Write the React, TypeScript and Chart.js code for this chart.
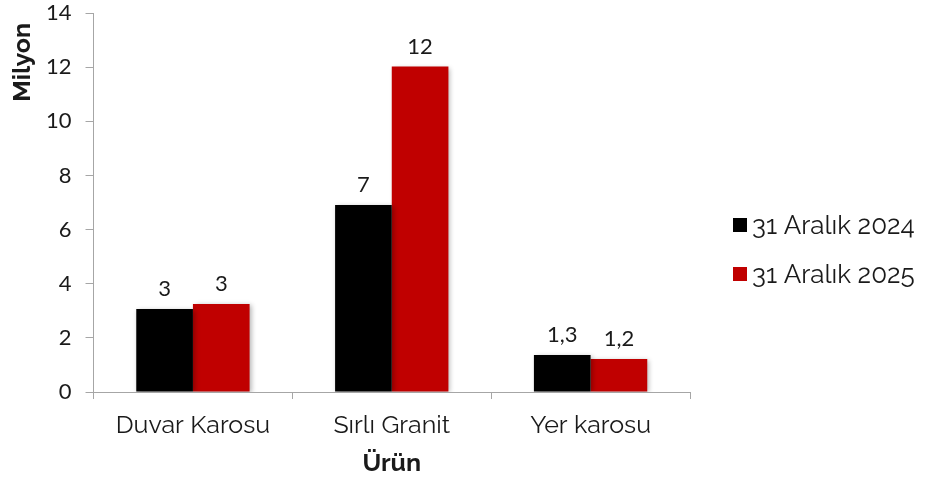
import React, { useEffect, useRef } from "react";
import { Chart, registerables } from "chart.js";

Chart.register(...registerables);

const categories = ["Duvar Karosu", "Sırlı Granit", "Yer karosu"];
const series2024 = [3.07, 6.91, 1.37];
const series2025 = [3.25, 12.02, 1.22];
const labels2024 = ["3", "7", "1,3"];
const labels2025 = ["3", "12", "1,2"];
const seriesNames = ["31 Aralık 2024", "31 Aralık 2025"];
const yAxisTitle = "Milyon";
const xAxisTitle = "Ürün";
const FONT = "Raleway, Lato, 'Open Sans', sans-serif";
const NUMFONT = "Lato, 'Open Sans', sans-serif";
const SHIFT = 12;

const valueLabelPlugin = {
  id: "valueLabels",
  beforeDatasetsDraw(chart: any) {
    const ctx = chart.ctx;
    ctx.save();
    ctx.shadowColor = "rgba(0,0,0,0.3)";
    ctx.shadowBlur = 5;
    ctx.shadowOffsetX = 2;
    ctx.shadowOffsetY = 1;
  },
  afterDatasetsDraw(chart: any) {
    const ctx = chart.ctx;
    ctx.restore();
    ctx.save();
    ctx.font = `22px ${NUMFONT}`;
    ctx.fillStyle = "#1a1a1a";
    ctx.textAlign = "center";
    ctx.textBaseline = "bottom";
    const allLabels = [labels2024, labels2025];
    chart.data.datasets.forEach((_: any, di: number) => {
      const meta = chart.getDatasetMeta(di);
      meta.data.forEach((bar: any, i: number) => {
        ctx.fillText(allLabels[di][i], bar.x, bar.y - 9);
      });
    });
    ctx.restore();
  },
};

const decorPlugin = {
  id: "decor",
  afterDraw(chart: any) {
    const ctx = chart.ctx;
    const area = chart.chartArea;
    ctx.save();
    // legend
    ctx.font = `26px ${FONT}`;
    ctx.textAlign = "left";
    ctx.textBaseline = "alphabetic";
    const x0 = area.right + 43;
    chart.data.datasets.forEach((ds: any, i: number) => {
      const base = area.top + 221 + i * 49;
      ctx.fillStyle = ds.backgroundColor;
      ctx.fillRect(x0, base - 16, 14, 14);
      ctx.fillStyle = "#1a1a1a";
      ctx.fillText(ds.label, x0 + 19, base);
    });
    // y axis title
    ctx.font = `bold 25px ${FONT}`;
    ctx.fillStyle = "#1a1a1a";
    ctx.translate(22, area.top + 10);
    ctx.rotate(-Math.PI / 2);
    ctx.textAlign = "right";
    ctx.textBaseline = "middle";
    ctx.fillText(yAxisTitle, 0, 0);
    ctx.restore();
  },
};

export default function App() {
  const ref = useRef<HTMLCanvasElement | null>(null);
  useEffect(() => {
    document.body.style.margin = "0";
    const chart = new Chart(ref.current as HTMLCanvasElement, {
      type: "bar",
      data: {
        labels: categories,
        datasets: [
          { label: seriesNames[0], data: series2024, backgroundColor: "#000000" },
          { label: seriesNames[1], data: series2025, backgroundColor: "#c00000" },
        ],
      },
      options: {
        responsive: false,
        animation: false,
        devicePixelRatio: 1,
        layout: { padding: { left: 32, right: 238, top: 0, bottom: 3 } },
        datasets: { bar: { categoryPercentage: 0.57, barPercentage: 1 } },
        plugins: {
          tooltip: { enabled: false },
          legend: { display: false },
        },
        scales: {
          x: {
            grid: { drawOnChartArea: false, drawTicks: true, tickLength: 7, color: "#a6a6a6" },
            border: { color: "#a6a6a6" },
            ticks: { color: "#1a1a1a", padding: 14, font: { family: FONT, size: 25, lineHeight: 1.0 } },
            title: {
              display: true,
              text: xAxisTitle,
              color: "#1a1a1a",
              font: { family: FONT, size: 25, weight: "bold" },
              padding: { top: -4, bottom: 0 },
            },
          },
          y: {
            min: 0,
            max: 14,
            grid: { drawOnChartArea: false, drawTicks: true, tickLength: 8, color: "#a6a6a6" },
            border: { color: "#a6a6a6" },
            ticks: { stepSize: 2, color: "#1a1a1a", padding: 14, font: { family: NUMFONT, size: 22, lineHeight: 1.0 } },
          },
        },
      },
      plugins: [valueLabelPlugin, decorPlugin],
    } as any);
    return () => chart.destroy();
  }, []);
  return (
    <div style={{ width: 928, height: 481, position: "relative", overflow: "hidden" }}>
      <canvas
        ref={ref}
        width={928}
        height={481 + SHIFT}
        style={{ position: "absolute", left: 0, top: -SHIFT }}
      />
    </div>
  );
}
